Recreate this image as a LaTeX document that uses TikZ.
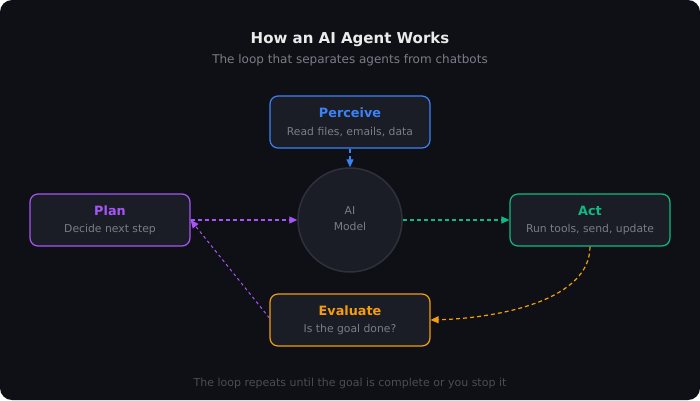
\documentclass[tikz,border=0pt]{standalone}
\usepackage{fontspec}
\setmainfont{DejaVu Sans}
\usetikzlibrary{arrows.meta}
\definecolor{bg}{HTML}{0F1015}
\definecolor{card}{HTML}{1A1C26}
\definecolor{ring}{HTML}{2E303C}
\definecolor{cblue}{HTML}{3B82F6}
\definecolor{cpurple}{HTML}{A855F7}
\definecolor{cgreen}{HTML}{10B981}
\definecolor{corange}{HTML}{F59E0B}
\definecolor{gtext}{HTML}{7A7D88}
\definecolor{ftext}{HTML}{4A4C56}
\begin{document}
\begin{tikzpicture}[x=1pt,y=-1pt,
 box/.style={draw=#1,line width=1.2pt,fill=card,rounded corners=8pt,minimum width=160pt,minimum height=52pt},
 ttl/.style={font=\fontsize{12.8}{14}\selectfont\bfseries,text=#1},
 sub/.style={font=\fontsize{10.8}{12}\selectfont,text=gtext},
 con/.style={draw=#1,line width=1.2pt,dash pattern=on 4pt off 3pt,-{Triangle[length=8pt,width=7pt]}}]
\fill[bg,rounded corners=12pt] (0,0) rectangle (700,400);
\useasboundingbox (0,0) rectangle (700,400);
\node[font=\fontsize{15}{17}\selectfont\bfseries,text=white!92!black] (title) at (350,39) {How an AI Agent Works};
\node[font=\fontsize{12}{14}\selectfont,text=gtext] (subt) at (350,60) {The loop that separates agents from chatbots};
\node[box=cblue] (perc) at (350,122) {};
\node[ttl=cblue] (percT) at (350,113) {Perceive};
\node[sub] (percS) at (350,132) {Read files, emails, data};
\node[box=cpurple] (plan) at (110,220) {};
\node[ttl=cpurple] (planT) at (110,211) {Plan};
\node[sub] (planS) at (110,230) {Decide next step};
\node[box=cgreen] (act) at (590,220) {};
\node[ttl=cgreen] (actT) at (590,211) {Act};
\node[sub] (actS) at (590,230) {Run tools, send, update};
\node[box=corange] (eval) at (350,320) {};
\node[ttl=corange] (evalT) at (350,311) {Evaluate};
\node[sub] (evalS) at (350,330) {Is the goal done?};
\node[circle,draw=ring,line width=1.5pt,fill=card,minimum size=104pt] (ai) at (350,220) {};
\node[font=\fontsize{10.8}{12}\selectfont,text=gtext,align=center] (aiT) at (350,219) {AI\\[4pt]Model};
\draw[con=cblue] (perc.south) -- (ai.north);
\draw[con=cpurple] (plan.east) -- (ai.west);
\draw[con=cgreen] (ai.east) -- (act.west);
\draw[con=corange] (act.south) .. controls (590,300) and (500,318) .. (eval.east);
\draw[con=cpurple,line width=1pt,dash pattern=on 3pt off 3pt] (eval.west) ++(0,-2) -- (plan.east);
\node[font=\fontsize{11}{13}\selectfont,text=ftext] (foot) at (350,383) {The loop repeats until the goal is complete or you stop it};
\end{tikzpicture}
\end{document}
